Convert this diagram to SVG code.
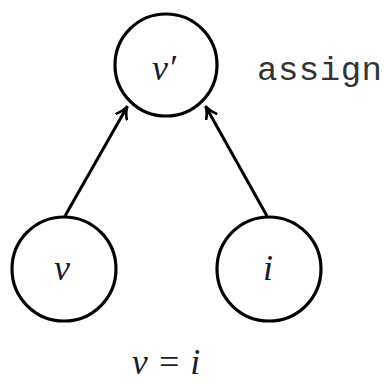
<svg xmlns="http://www.w3.org/2000/svg" width="385" height="385" viewBox="0 0 385 385">
<style>
.node{fill:none;stroke:#000;stroke-width:3.2}
.lbl{font-family:"Liberation Serif","DejaVu Serif",serif;font-style:italic;font-size:36px;fill:#1a1a2e;text-anchor:middle}
.edge{stroke:#000;stroke-width:3;fill:none}
.tt{font-family:"Liberation Mono","DejaVu Sans Mono",monospace;font-size:34px;fill:#333}
</style>
<defs>
<marker id="arr" viewBox="0 0 14 14" refX="12" refY="7" markerWidth="14" markerHeight="14" markerUnits="userSpaceOnUse" orient="auto">
<path d="M1,1 Q7,6 13,7 Q7,8 1,13" fill="none" stroke="#000" stroke-width="2.6" stroke-linecap="round"/>
</marker>
</defs>
<rect width="385" height="385" fill="#fff"/>
<g id="connectors">
<line class="edge" x1="65" y1="216" x2="127" y2="107" marker-end="url(#arr)"/>
<line class="edge" x1="267" y1="216" x2="206" y2="107" marker-end="url(#arr)"/>
</g>
<g id="node-vprime">
<circle class="node" cx="166" cy="65" r="51"/>
<text class="lbl" x="164" y="80">v′</text>
</g>
<g id="node-v">
<circle class="node" cx="64" cy="269" r="52"/>
<text class="lbl" x="62" y="280">v</text>
</g>
<g id="node-i">
<circle class="node" cx="269" cy="269" r="52"/>
<text class="lbl" x="268" y="280">i</text>
</g>
<text class="tt" x="257" y="80" textLength="125">assign</text>
<text class="lbl" x="166" y="374">v = i</text>
</svg>
